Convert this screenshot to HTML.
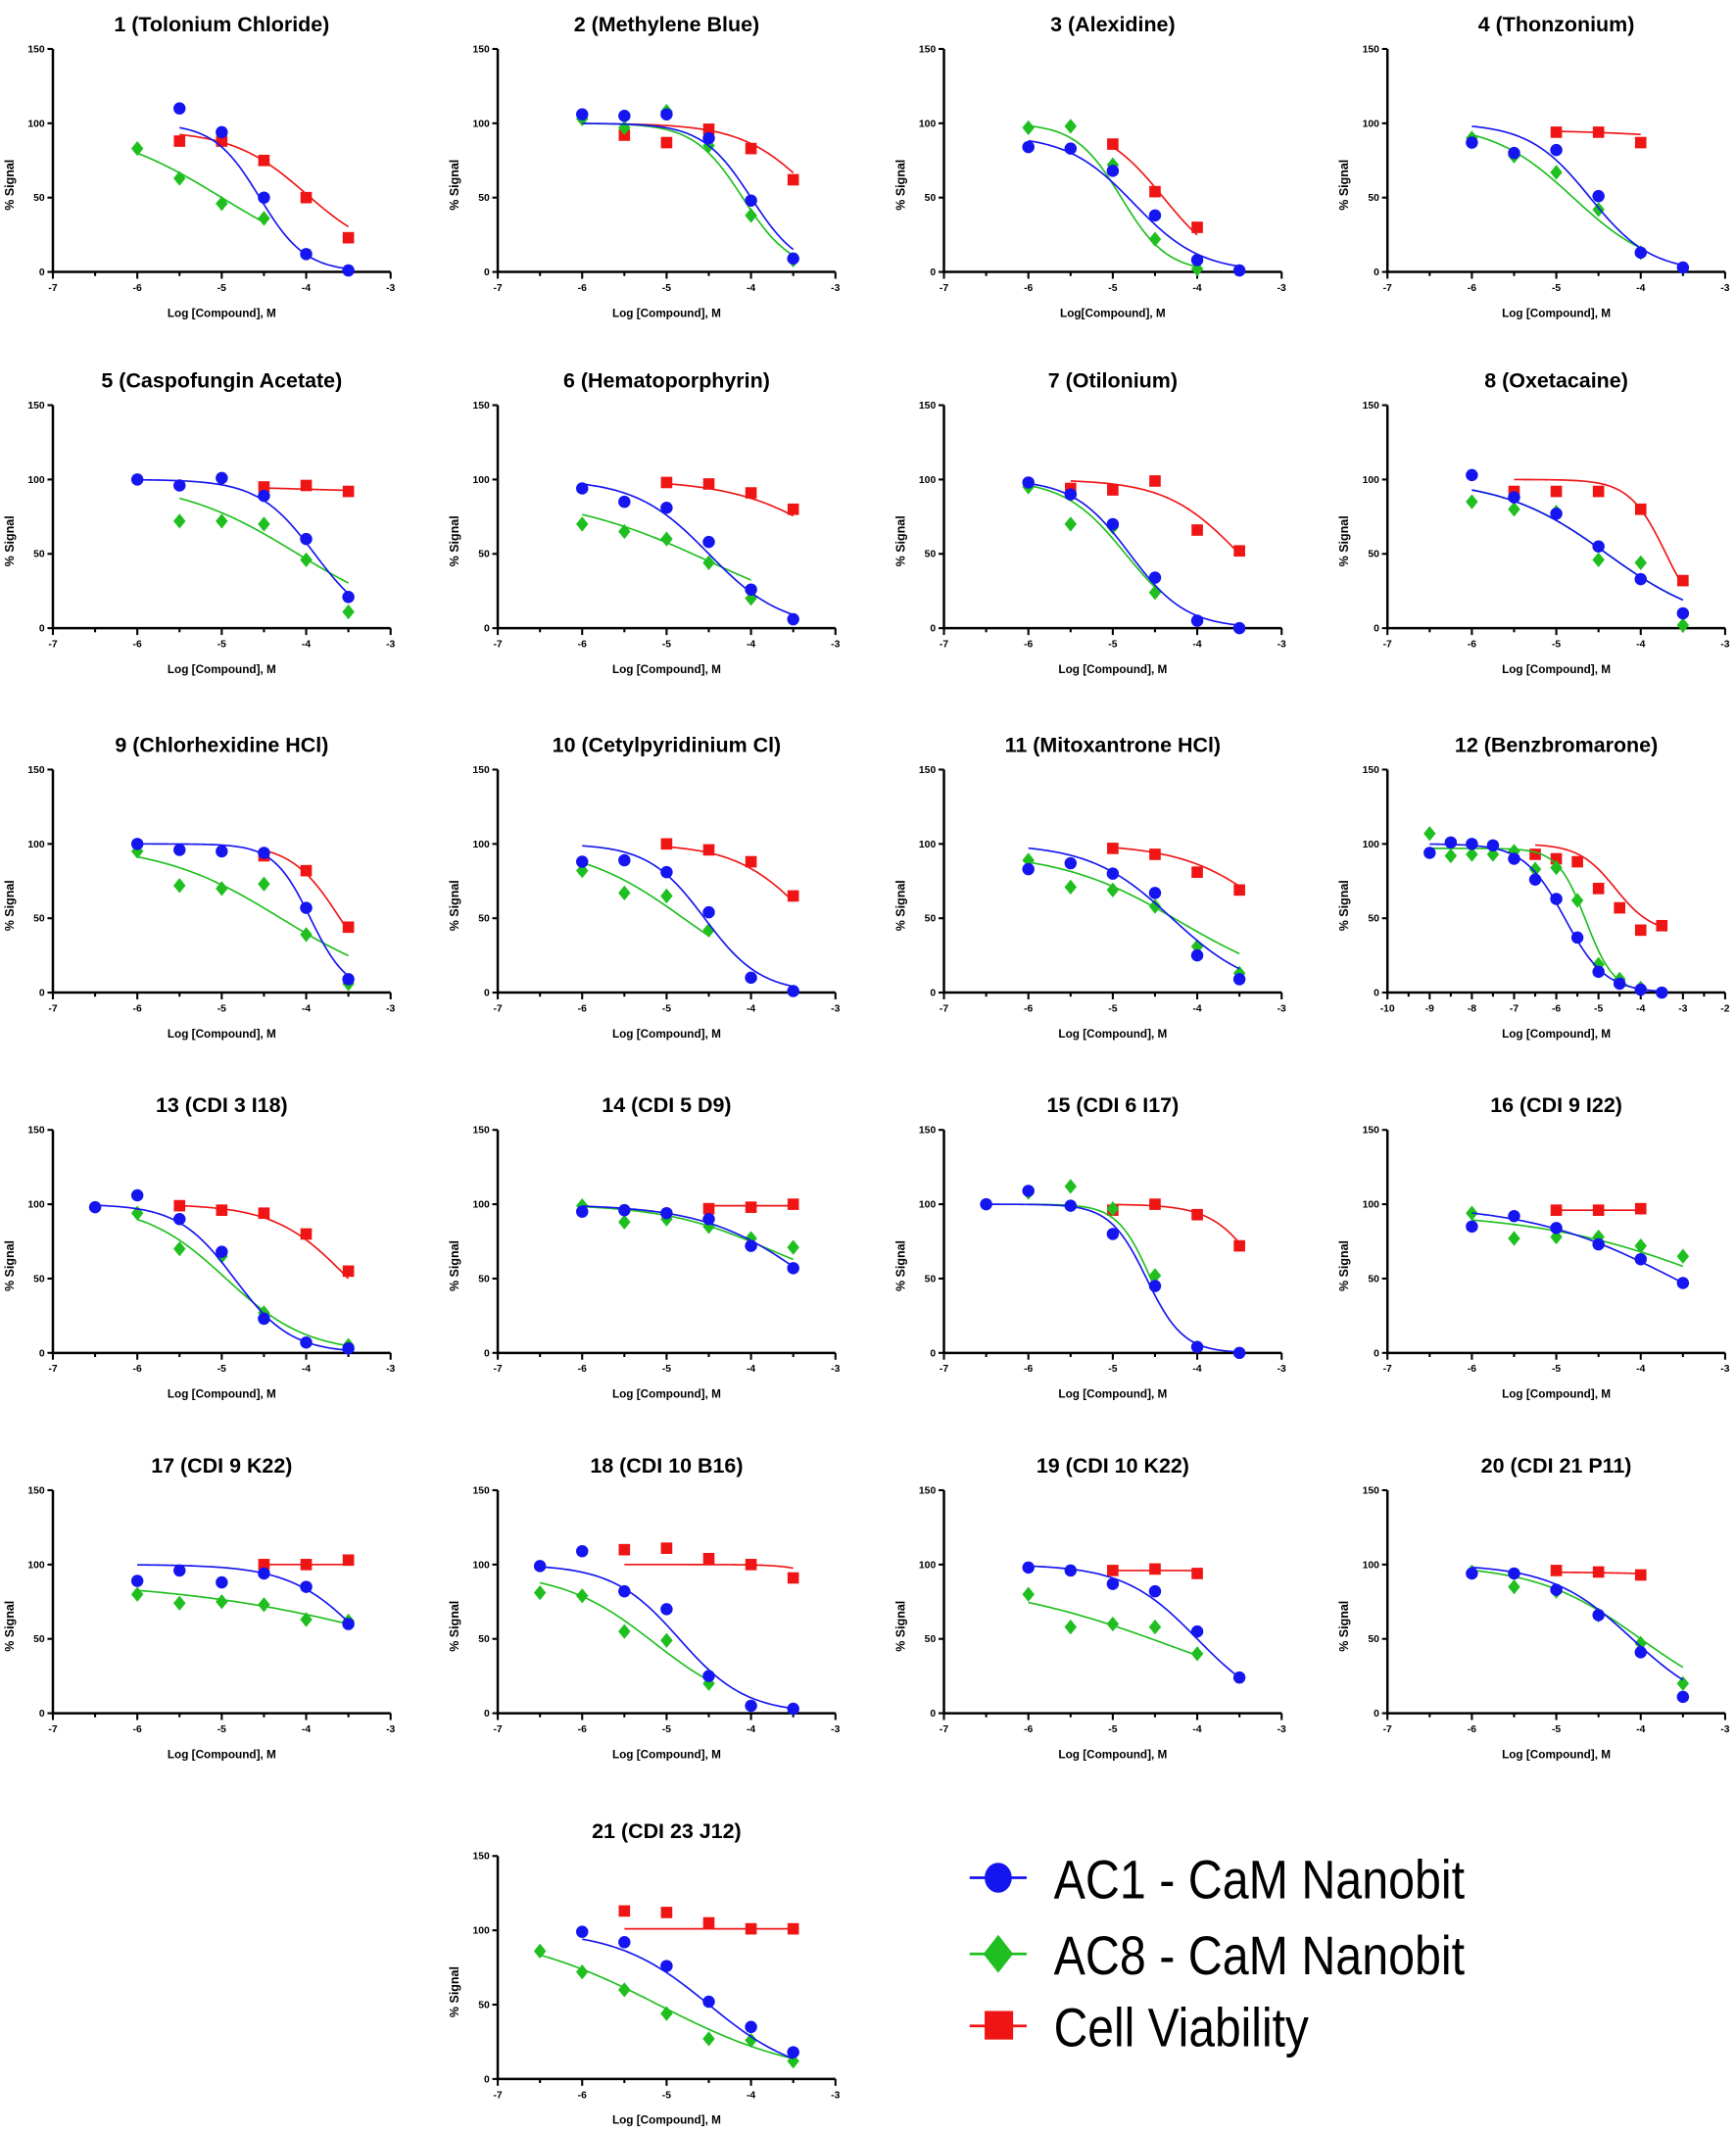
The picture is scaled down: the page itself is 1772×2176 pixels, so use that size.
<!DOCTYPE html>
<html><head><meta charset="utf-8"><style>
html,body{margin:0;padding:0;background:#fff}
svg{display:block}
text{font-family:"Liberation Sans",Arial,sans-serif;font-weight:bold;fill:#000}
</style></head><body>
<svg id="fig" xmlns="http://www.w3.org/2000/svg" width="1772" height="2176" viewBox="0 0 1280 1568" preserveAspectRatio="none">
<g id="panels"></g>
<g id="legend">
  <g>
    <line x1="715" y1="1381" x2="757" y2="1381" stroke="#1515f0" stroke-width="2"/>
    <ellipse cx="736" cy="1381" rx="10" ry="11" fill="#1515f0"/>
    <text x="777" y="1396" font-size="40" style="font-weight:normal" textLength="303" lengthAdjust="spacingAndGlyphs">AC1 - CaM Nanobit</text>
  </g>
  <g>
    <line x1="715" y1="1437" x2="757" y2="1437" stroke="#1fbf1f" stroke-width="2"/>
    <polygon points="736,1423 747,1437 736,1451 725,1437" fill="#1fbf1f"/>
    <text x="777" y="1452" font-size="40" style="font-weight:normal" textLength="303" lengthAdjust="spacingAndGlyphs">AC8 - CaM Nanobit</text>
  </g>
  <g>
    <line x1="715" y1="1490" x2="757" y2="1490" stroke="#f01515" stroke-width="2"/>
    <rect x="726" y="1479" width="21" height="21" fill="#f01515"/>
    <text x="777" y="1505" font-size="40" style="font-weight:normal" textLength="188" lengthAdjust="spacingAndGlyphs">Cell Viability</text>
  </g>
</g>
</svg>
<script>
// ---- data ----
const titles = ["1 (Tolonium Chloride)","2 (Methylene Blue)","3 (Alexidine)","4 (Thonzonium)","5 (Caspofungin Acetate)","6 (Hematoporphyrin)","7 (Otilonium)","8 (Oxetacaine)","9 (Chlorhexidine HCl)","10 (Cetylpyridinium Cl)","11 (Mitoxantrone HCl)","12 (Benzbromarone)","13 (CDI 3 I18)","14 (CDI 5 D9)","15 (CDI 6 I17)","16 (CDI 9 I22)","17 (CDI 9 K22)","18 (CDI 10 B16)","19 (CDI 10 K22)","20 (CDI 21 P11)","21 (CDI 23 J12)"];
const ac1X = [[-5.5,-5,-4.5,-4,-3.5],[-6,-5.5,-5,-4.5,-4,-3.5],[-6,-5.5,-5,-4.5,-4,-3.5],[-6,-5.5,-5,-4.5,-4,-3.5],[-6,-5.5,-5,-4.5,-4,-3.5],[-6,-5.5,-5,-4.5,-4,-3.5],[-6,-5.5,-5,-4.5,-4,-3.5],[-6,-5.5,-5,-4.5,-4,-3.5],[-6,-5.5,-5,-4.5,-4,-3.5],[-6,-5.5,-5,-4.5,-4,-3.5],[-6,-5.5,-5,-4.5,-4,-3.5],[-9,-8.5,-8,-7.5,-7,-6.5,-6,-5.5,-5,-4.5,-4,-3.5],[-6.5,-6,-5.5,-5,-4.5,-4,-3.5],[-6,-5.5,-5,-4.5,-4,-3.5],[-6.5,-6,-5.5,-5,-4.5,-4,-3.5],[-6,-5.5,-5,-4.5,-4,-3.5],[-6,-5.5,-5,-4.5,-4,-3.5],[-6.5,-6,-5.5,-5,-4.5,-4,-3.5],[-6,-5.5,-5,-4.5,-4,-3.5],[-6,-5.5,-5,-4.5,-4,-3.5],[-6,-5.5,-5,-4.5,-4,-3.5]];
const ac1Y = [[110,94,50,12,1],[106,105,106,90,48,9],[84,83,68,38,8,1],[87,80,82,51,13,3],[100,96,101,89,60,21],[94,85,81,58,26,6],[98,90,70,34,5,0],[103,88,77,55,33,10],[100,96,95,94,57,9],[88,89,81,54,10,1],[83,87,80,67,25,9],[94,101,100,99,90,76,63,37,14,6,2,0],[98,106,90,68,23,7,3],[95,96,94,90,72,57],[100,109,99,80,45,4,0],[85,92,84,73,63,47],[89,96,88,94,85,60],[99,109,82,70,25,5,3],[98,96,87,82,55,24],[94,94,83,66,41,11],[99,92,76,52,35,18]];
const ac8X = [[-6,-5.5,-5,-4.5],[-6,-5.5,-5,-4.5,-4,-3.5],[-6,-5.5,-5,-4.5,-4],[-6,-5.5,-5,-4.5,-4],[-5.5,-5,-4.5,-4,-3.5],[-6,-5.5,-5,-4.5,-4],[-6,-5.5,-5,-4.5],[-6,-5.5,-5,-4.5,-4,-3.5],[-6,-5.5,-5,-4.5,-4,-3.5],[-6,-5.5,-5,-4.5],[-6,-5.5,-5,-4.5,-4,-3.5],[-9,-8.5,-8,-7.5,-7,-6.5,-6,-5.5,-5,-4.5,-4],[-6,-5.5,-5,-4.5,-3.5],[-6,-5.5,-5,-4.5,-4,-3.5],[-6,-5.5,-5,-4.5],[-6,-5.5,-5,-4.5,-4,-3.5],[-6,-5.5,-5,-4.5,-4,-3.5],[-6.5,-6,-5.5,-5,-4.5],[-6,-5.5,-5,-4.5,-4],[-6,-5.5,-5,-4.5,-4,-3.5],[-6.5,-6,-5.5,-5,-4.5,-4,-3.5]];
const ac8Y = [[83,63,46,36],[103,97,108,85,38,8],[97,98,72,22,2],[90,78,67,42,13],[72,72,70,46,11],[70,65,60,44,20],[95,70,68,24],[85,80,78,46,44,2],[95,72,70,73,39,6],[82,67,65,42],[89,71,69,58,31,13],[107,92,93,93,95,83,84,62,19,9,3],[94,70,65,27,5],[99,88,90,85,77,71],[108,112,97,52],[94,77,78,78,72,65],[80,74,75,73,63,62],[81,79,55,49,20],[80,58,60,58,40],[95,85,82,66,47,20],[86,72,60,44,27,26,12]];
const cvX = [[-5.5,-5,-4.5,-4,-3.5],[-5.5,-5,-4.5,-4,-3.5],[-5,-4.5,-4],[-5,-4.5,-4],[-4.5,-4,-3.5],[-5,-4.5,-4,-3.5],[-5.5,-5,-4.5,-4,-3.5],[-5.5,-5,-4.5,-4,-3.5],[-4.5,-4,-3.5],[-5,-4.5,-4,-3.5],[-5,-4.5,-4,-3.5],[-6.5,-6,-5.5,-5,-4.5,-4,-3.5],[-5.5,-5,-4.5,-4,-3.5],[-4.5,-4,-3.5],[-5,-4.5,-4,-3.5],[-5,-4.5,-4],[-4.5,-4,-3.5],[-5.5,-5,-4.5,-4,-3.5],[-5,-4.5,-4],[-5,-4.5,-4],[-5.5,-5,-4.5,-4,-3.5]];
const cvY = [[88,88,75,50,23],[92,87,96,83,62],[86,54,30],[94,94,87],[95,96,92],[98,97,91,80],[94,93,99,66,52],[92,92,92,80,32],[92,82,44],[100,96,88,65],[97,93,81,69],[93,90,88,70,57,42,45],[99,96,94,80,55],[97,98,100],[96,100,93,72],[96,96,97],[100,100,103],[110,111,104,100,91],[96,97,94],[96,95,93],[113,112,105,101,101]];
// fit parameters [top, bottom, logIC50, hill]
const ac1Fit = [[100,0,-4.55,1.6],[100,0,-4.0,1.5],[92,0,-4.75,1.1],[100,0,-4.6,1.2],[100,0,-3.9,1.3],[100,0,-4.5,1.0],[100,0,-4.8,1.3],[100,0,-4.4,0.7],[100,0,-3.95,2],[100,0,-4.55,1.3],[100,0,-4.3,0.9],[100,0,-5.8,0.9],[100,0,-4.85,1.3],[100,0,-3.3,0.7],[100,0,-4.6,2],[100,0,-3.6,0.5],[100,0,-3.3,1],[100,0,-4.85,1.1],[100,0,-4.0,1],[100,0,-4.1,0.9],[100,0,-4.5,0.8]];
const ac8Fit = [[100,0,-5.0,0.6],[100,0,-4.1,1.5],[100,0,-4.9,1.6],[100,0,-4.8,0.9],[100,0,-4.1,0.6],[90,0,-4.5,0.5],[100,0,-4.85,1.2],[100,0,-4.4,0.7],[100,0,-4.3,0.6],[100,0,-4.8,0.7],[95,0,-4.2,0.6],[97,0,-5.3,1.3],[100,0,-4.95,0.9],[100,40,-3.8,0.7],[100,0,-4.55,2.2],[95,0,-3.0,0.4],[90,0,-2.5,0.3],[95,0,-5.15,0.8],[90,0,-4.3,0.4],[100,0,-4.0,0.7],[100,0,-5.1,0.5]];
const cvFit = [[95,10,-4.0,1],[100,0,-3.2,1],[100,0,-4.4,1.2],[95,90,-4,1],[95,92,-4,1],[100,0,-2.8,0.7],[100,0,-3.5,1],[100,0,-3.7,2],[100,0,-3.6,1.5],[100,0,-3.3,1],[100,0,-3.0,0.8],[100,40,-4.6,1],[100,0,-3.5,1],[99,99,-4,1],[100,0,-3.2,1.5],[96,96,-4,1],[100,100,-4,1],[100,0,-2.7,2],[96,96,-4,1],[95,93,-4,1],[101,101,-4,1]];
const xRanges = [[-7,-3],[-7,-3],[-7,-3],[-7,-3],[-7,-3],[-7,-3],[-7,-3],[-7,-3],[-7,-3],[-7,-3],[-7,-3],[-10,-2],[-7,-3],[-7,-3],[-7,-3],[-7,-3],[-7,-3],[-7,-3],[-7,-3],[-7,-3],[-7,-3]];
const yTicks = [0,50,100,150];

// ---- layout ----
const colX = [39, 367, 696, 1023];
const rowY0 = [200, 462, 730, 995, 1260, 1529];
const PW = 249, PH = 164;
const NS = "http://www.w3.org/2000/svg";
const root = document.getElementById('panels');
function mk(tag, attrs, parent){const e=document.createElementNS(NS,tag);for(const k in attrs)e.setAttribute(k,attrs[k]);parent.appendChild(e);return e;}
function hill(p,x){return p[1]+(p[0]-p[1])/(1+Math.pow(10,(x-p[2])*p[3]));}
const colors = {ac1:"#1515f0", ac8:"#1fbf1f", cv:"#f01515"};

for(let i=0;i<titles.length;i++){
  const col = i===20 ? 1 : i%4, row = Math.floor(i/4);
  const x0 = colX[col], y0 = rowY0[row];
  const xr = xRanges[i];
  const sx = v => x0 + (v-xr[0])/(xr[1]-xr[0])*PW;
  const sy = v => y0 - v/150*PH;
  const g = mk('g',{},root);
  
  
  const t = mk('text',{x:x0+PW/2, y:y0-PH-13, 'font-size':15.5, 'text-anchor':'middle'},g);
  
  
  t.textContent = titles[i];
  const ax = mk('path',{d:`M${x0},${y0-PH} L${x0},${y0} L${x0+PW},${y0}`, stroke:'#000', 'stroke-width':1.8, fill:'none'},g);
  
  
  for(const v of yTicks){
    mk('line',{x1:x0-4,x2:x0,y1:sy(v),y2:sy(v),stroke:'#000','stroke-width':1.5},g);
    const tl = mk('text',{x:x0-6,y:sy(v)+2.5,'font-size':7.5,'text-anchor':'end'},g);
    
    
    tl.textContent = v;
  }
  for(let v=xr[0]; v<=xr[1]+1e-9; v+=0.5){
    const major = Math.abs(v-Math.round(v))<1e-9;
    mk('line',{x1:sx(v),x2:sx(v),y1:y0,y2:y0+(major?5:3),stroke:'#000','stroke-width':1.5},g);
    if(major){
      const tl = mk('text',{x:sx(v),y:y0+14,'font-size':7.5,'text-anchor':'middle'},g);
      
      
      tl.textContent = v;
    }
  }
  const xl = mk('text',{x:x0+PW/2, y:y0+33, 'font-size':8.5, 'text-anchor':'middle'},g);
  
  
  xl.textContent = i===2 ? "Log[Compound], M" : "Log [Compound], M";
  const yl = mk('text',{x:0,y:0,'font-size':9,'text-anchor':'middle',transform:`translate(${x0-29},${y0-PH/2+18}) rotate(-90)`},g);
  
  
  yl.textContent = "% Signal";
  const series = [["cv",cvX[i],cvY[i],cvFit[i]],["ac8",ac8X[i],ac8Y[i],ac8Fit[i]],["ac1",ac1X[i],ac1Y[i],ac1Fit[i]]];
  for(const [key,xs,ys,p] of series){
    const c = colors[key];
    const lo = Math.min(...xs), hi = Math.max(...xs);
    let d = "";
    for(let k=0;k<=80;k++){const xv=lo+(hi-lo)*k/80; d += (k?"L":"M")+sx(xv).toFixed(2)+","+sy(hill(p,xv)).toFixed(2);}
    const cu = mk('path',{d, stroke:c, 'stroke-width':1.2, fill:'none'},g);
    
    
    for(let k=0;k<xs.length;k++){
      const px=sx(xs[k]), py=sy(ys[k]);
      let m;
      if(key==="ac1") m = mk('circle',{cx:px,cy:py,r:4.5,fill:c},g);
      else if(key==="ac8") m = mk('polygon',{points:`${px},${py-5.5} ${px+4.5},${py} ${px},${py+5.5} ${px-4.5},${py}`,fill:c},g);
      else m = mk('rect',{x:px-4.2,y:py-4.2,width:8.4,height:8.4,fill:c},g);
      
      
    }
  }
}
</script>
</body></html>
